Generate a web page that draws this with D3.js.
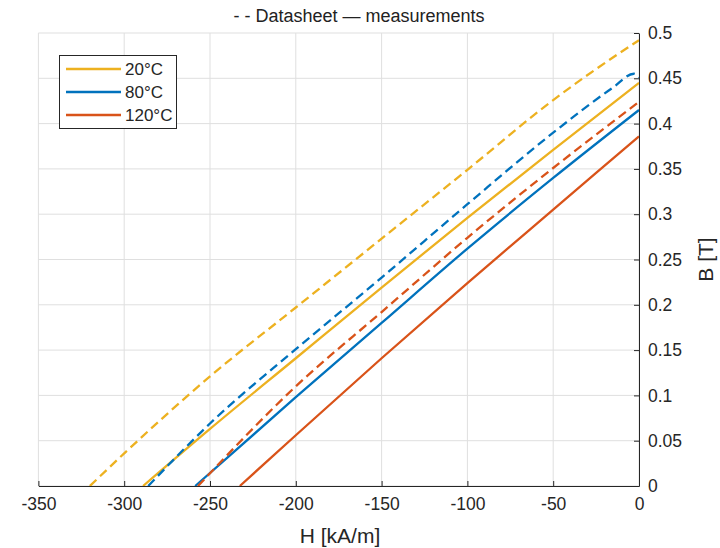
<!DOCTYPE html>
<html>
<head>
<meta charset="utf-8">
<script src="https://cdn.jsdelivr.net/npm/d3@7"></script>
<style>
  body { margin: 0; background: #fff; }
  svg { display: block; font-family: "Liberation Sans", Arial, Helvetica, sans-serif; }
</style>
</head>
<body>
<svg id="chart" width="720" height="548"></svg>
<script>
// ---- data ----
const temps = ["20°C", "80°C", "120°C"];
const colors = ["#EDB120", "#0072BD", "#D95319"];

// measurements (solid)
const H20meas = [-289, -250, -200, -150, -100, -50, 0];
const B20meas = [0, 0.063, 0.141, 0.219, 0.296, 0.371, 0.445];
const H80meas = [-258.6, -200, -150, -100, -50, 0];
const B80meas = [0, 0.098, 0.180, 0.262, 0.340, 0.415];
const H120meas = [-232.6, -200, -150, -100, -50, 0];
const B120meas = [0, 0.056, 0.141, 0.224, 0.305, 0.386];

// datasheet (dashed)
const H20ds = [-320, -300, -250, -200, -150, -100, -50, -12, 0];
const B20ds = [0, 0.036, 0.121, 0.197, 0.273, 0.349, 0.426, 0.477, 0.492];
const H80ds = [-286, -250, -200, -150, -100, -50, -15, -3, 0];
const B80ds = [0, 0.069, 0.151, 0.230, 0.311, 0.390, 0.440, 0.455, 0.451];
const H120ds = [-257, -200, -150, -100, -50, 0];
const B120ds = [0, 0.110, 0.192, 0.274, 0.351, 0.424];

const xTicks = [-350, -300, -250, -200, -150, -100, -50, 0];
const yTicks = [0, 0.05, 0.1, 0.15, 0.2, 0.25, 0.3, 0.35, 0.4, 0.45, 0.5];

const titleText = "- - Datasheet \u2014 measurements";
const xLabel = "H [kA/m]";
const yLabel = "B [T]";

// ---- layout ----
const svg = d3.select("#chart");
const L = 38.4, R = 639, T = 33, B = 486;
const x = d3.scaleLinear().domain([-350, 0]).range([L, R]);
const y = d3.scaleLinear().domain([0, 0.5]).range([B, T]);
const axisColor = "#262626";

// grid
const grid = svg.append("g");
grid.selectAll("line.vx").data(xTicks).enter().append("line")
  .attr("x1", d => x(d)).attr("x2", d => x(d)).attr("y1", T).attr("y2", B)
  .attr("stroke", "#dfdfdf").attr("stroke-width", 1);
grid.selectAll("line.hy").data(yTicks).enter().append("line")
  .attr("x1", L).attr("x2", R).attr("y1", d => y(d)).attr("y2", d => y(d))
  .attr("stroke", "#dfdfdf").attr("stroke-width", 1);

// curves
const line = d3.line().x(d => x(d[0])).y(d => y(d[1])).curve(d3.curveMonotoneX);
const zip = (a, b) => a.map((v, i) => [v, b[i]]);
const meas = [zip(H20meas, B20meas), zip(H80meas, B80meas), zip(H120meas, B120meas)];
const ds = [zip(H20ds, B20ds), zip(H80ds, B80ds), zip(H120ds, B120ds)];

const curves = svg.append("g");
meas.forEach((pts, i) => {
  curves.append("path").attr("d", line(pts)).attr("fill", "none")
    .attr("stroke", colors[i]).attr("stroke-width", 2.3);
});
ds.forEach((pts, i) => {
  curves.append("path").attr("d", line(pts)).attr("fill", "none")
    .attr("stroke", colors[i]).attr("stroke-width", 2.3)
    .attr("stroke-dasharray", "9,5");
});

// x axis (bottom, ticks inward)
const xAxis = d3.axisBottom(x).tickValues(xTicks).tickSizeInner(-5).tickSizeOuter(0)
  .tickPadding(12).tickFormat(d => String(d));
const gx = svg.append("g").attr("transform", `translate(0,${B})`).call(xAxis);
gx.select(".domain").attr("stroke", axisColor);
gx.selectAll(".tick line").attr("stroke", axisColor);
gx.selectAll(".tick text").attr("fill", axisColor).attr("font-size", 17.5)
  .attr("font-family", "Liberation Sans, Arial, sans-serif");

// y axis (right, ticks inward)
const yAxis = d3.axisRight(y).tickValues(yTicks).tickSizeInner(-5).tickSizeOuter(0)
  .tickPadding(9).tickFormat(d => String(+d.toFixed(2)));
const gy = svg.append("g").attr("transform", `translate(${R},0)`).call(yAxis);
gy.select(".domain").attr("stroke", axisColor);
gy.selectAll(".tick line").attr("stroke", axisColor);
gy.selectAll(".tick text").attr("fill", axisColor).attr("font-size", 17.5)
  .attr("font-family", "Liberation Sans, Arial, sans-serif");

// labels
svg.append("text").attr("x", 340).attr("y", 543).attr("text-anchor", "middle")
  .attr("font-size", 21).attr("fill", axisColor).text(xLabel);
svg.append("text").attr("transform", `translate(713,${(T + B) / 2}) rotate(-90)`)
  .attr("text-anchor", "middle").attr("font-size", 21).attr("fill", axisColor).text(yLabel);
svg.append("text").attr("x", 359).attr("y", 22).attr("text-anchor", "middle")
  .attr("font-size", 18).attr("fill", "#222").text(titleText);

// legend
const lg = svg.append("g");
lg.append("rect").attr("x", 59.5).attr("y", 55.5).attr("width", 117).attr("height", 73)
  .attr("fill", "#fff").attr("stroke", axisColor).attr("stroke-width", 1);
temps.forEach((t, i) => {
  const yy = 69 + i * 23;
  lg.append("line").attr("x1", 66).attr("x2", 121).attr("y1", yy).attr("y2", yy)
    .attr("stroke", colors[i]).attr("stroke-width", 2.3);
  lg.append("text").attr("x", 125).attr("y", yy + 6).attr("font-size", 17)
    .attr("fill", axisColor).text(t);
});
</script>
</body>
</html>
